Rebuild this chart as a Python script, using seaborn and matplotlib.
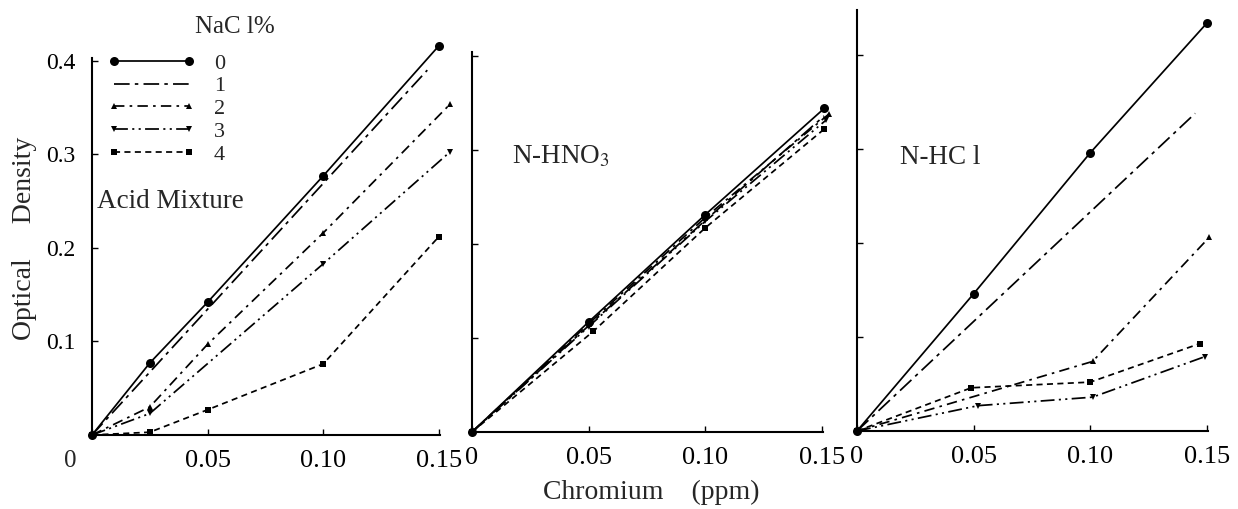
import matplotlib
matplotlib.use("Agg")
import matplotlib.pyplot as plt
import seaborn as sns
import pandas as pd

# ---------------- data ----------------
nacl_labels = ["0", "1", "2", "3", "4"]
x_ticks = [0, 0.05, 0.10, 0.15]
x_tick_labels = ["0", "0.05", "0.10", "0.15"]
y_ticks = [0.1, 0.2, 0.3, 0.4]
y_tick_labels = ["0.1", "0.2", "0.3", "0.4"]

# Acid Mixture panel
acid_x0 = [0, 0.025, 0.05, 0.10, 0.15]
acid_y0 = [0, 0.077, 0.142, 0.277, 0.416]
acid_x1 = [0, 0.145]
acid_y1 = [0, 0.390]
acid_x2 = [0, 0.025, 0.05, 0.10, 0.155]
acid_y2 = [0, 0.030, 0.097, 0.216, 0.354]
acid_x3 = [0, 0.025, 0.10, 0.155]
acid_y3 = [0, 0.023, 0.183, 0.303]
acid_x4 = [0, 0.025, 0.05, 0.10, 0.15]
acid_y4 = [0, 0.003, 0.027, 0.076, 0.212]

# N-HNO3 panel
hno3_x0 = [0, 0.05, 0.10, 0.151]
hno3_y0 = [0, 0.117, 0.231, 0.344]
hno3_x1 = [0, 0.05, 0.10, 0.151]
hno3_y1 = [0, 0.113, 0.225, 0.336]
hno3_x2 = [0, 0.05, 0.10, 0.153]
hno3_y2 = [0, 0.115, 0.228, 0.338]
hno3_x3 = [0, 0.05, 0.10, 0.152]
hno3_y3 = [0, 0.112, 0.224, 0.332]
hno3_x4 = [0, 0.052, 0.10, 0.151]
hno3_y4 = [0, 0.107, 0.217, 0.322]

# N-HCl panel
hcl_x0 = [0, 0.05, 0.10, 0.15]
hcl_y0 = [0, 0.146, 0.296, 0.434]
hcl_x1 = [0, 0.145]
hcl_y1 = [0, 0.338]
hcl_x2 = [0, 0.101, 0.151]
hcl_y2 = [0, 0.074, 0.206]
hcl_x3 = [0, 0.052, 0.101, 0.149]
hcl_y3 = [0, 0.027, 0.036, 0.079]
hcl_x4 = [0, 0.049, 0.100, 0.147]
hcl_y4 = [0, 0.046, 0.052, 0.093]

# ---------------- style ----------------
sns.set_style("ticks")
plt.rcParams["font.family"] = ["Liberation Serif", "DejaVu Serif"]
plt.rcParams["mathtext.fontset"] = "stix"

W, H = 1238, 509
fig = plt.figure(figsize=(W / 100, H / 100), dpi=100)

def px_axes(left, right, top, bottom):
    return fig.add_axes([left / W, (H - bottom) / H, (right - left) / W, (bottom - top) / H])

ax1 = px_axes(92, 440, 58, 435)
ax2 = px_axes(472, 823, 52, 432)
ax3 = px_axes(857, 1208, 10, 431)

series_styles = [
    dict(linestyle="-", marker="o", markersize=6.5),
    dict(linestyle=(0, (9, 3, 2, 3)), marker=None, markersize=0),
    dict(linestyle=(0, (6, 3, 1.5, 3)), marker="^", markersize=5),
    dict(linestyle=(0, (8, 2.5, 1.2, 2.5, 1.2, 2.5)), marker="v", markersize=5),
    dict(linestyle=(0, (3.5, 2.5)), marker="s", markersize=4.5),
]

panels = [
    (ax1, [(acid_x0, acid_y0), (acid_x1, acid_y1), (acid_x2, acid_y2), (acid_x3, acid_y3), (acid_x4, acid_y4)], 0.403),
    (ax2, [(hno3_x0, hno3_y0), (hno3_x1, hno3_y1), (hno3_x2, hno3_y2), (hno3_x3, hno3_y3), (hno3_x4, hno3_y4)], 0.404),
    (ax3, [(hcl_x0, hcl_y0), (hcl_x1, hcl_y1), (hcl_x2, hcl_y2), (hcl_x3, hcl_y3), (hcl_x4, hcl_y4)], 0.448),
]

for ax, series, ytop in panels:
    for lab, (xs, ys), st in zip(nacl_labels, series, series_styles):
        df = pd.DataFrame({"x": xs, "y": ys})
        sns.lineplot(data=df, x="x", y="y", ax=ax, color="black", linewidth=1.25,
                     label=lab, clip_on=False, markeredgewidth=0, sort=False,
                     **st)
    ax.set_xlim(0, 0.1505)
    ax.set_ylim(0, ytop)
    ax.set_xlabel("")
    ax.set_ylabel("")
    ax.set_xticks(x_ticks)
    ax.set_yticks(y_ticks)
    for s in ["top", "right"]:
        ax.spines[s].set_visible(False)
    for s in ["left", "bottom"]:
        ax.spines[s].set_linewidth(1.5)
        ax.spines[s].set_color("black")
    ax.tick_params(axis="both", direction="in", length=4, width=1.0, colors="black")
    ax.tick_params(axis="x", labelsize=19, pad=11)
    ax.tick_params(axis="y", labelsize=17, pad=12)
    ax.set_facecolor("white")
    if ax.get_legend() is not None:
        ax.get_legend().remove()

ax1.set_xticklabels([""] + x_tick_labels[1:])
ax1.set_yticklabels(y_tick_labels)
ax2.set_xticklabels(x_tick_labels)
ax3.set_xticklabels(x_tick_labels)
ax2.set_yticklabels([])
ax3.set_yticklabels([])
ax1.annotate("0", xy=(0, 0), xycoords="data", xytext=(-16, -19), textcoords="offset points",
             ha="center", va="center", fontsize=18)

# legend in panel 1
handles = ax1.get_lines()[:5]
leg = ax1.legend(handles, nacl_labels, loc="upper left", bbox_to_anchor=(107 / W, (H - 53) / H),
                 bbox_transform=fig.transFigure, frameon=False, fontsize=16,
                 handlelength=4.0, handletextpad=0.8, labelspacing=0.1, borderpad=0,
                 numpoints=2, borderaxespad=0)
fig.text(235 / W, (H - 27) / H, "NaC l%", ha="center", va="center", fontsize=18)

# panel annotations
fig.text(97 / W, (H - 202) / H, "Acid Mixture", ha="left", va="center", fontsize=19.5)
fig.text(512 / W, (H - 157) / H, "N-HNO$_3$", ha="left", va="center", fontsize=19.5)
fig.text(900 / W, (H - 157) / H, "N-HC l", ha="left", va="center", fontsize=19.5)

# axis titles
fig.text(25 / W, (H - 238) / H, "Optical     Density", rotation=90, ha="center", va="center", fontsize=20)
fig.text(651 / W, (H - 492) / H, "Chromium    (ppm)", ha="center", va="center", fontsize=20)

fig.savefig("out.png", dpi=100, facecolor="white")
